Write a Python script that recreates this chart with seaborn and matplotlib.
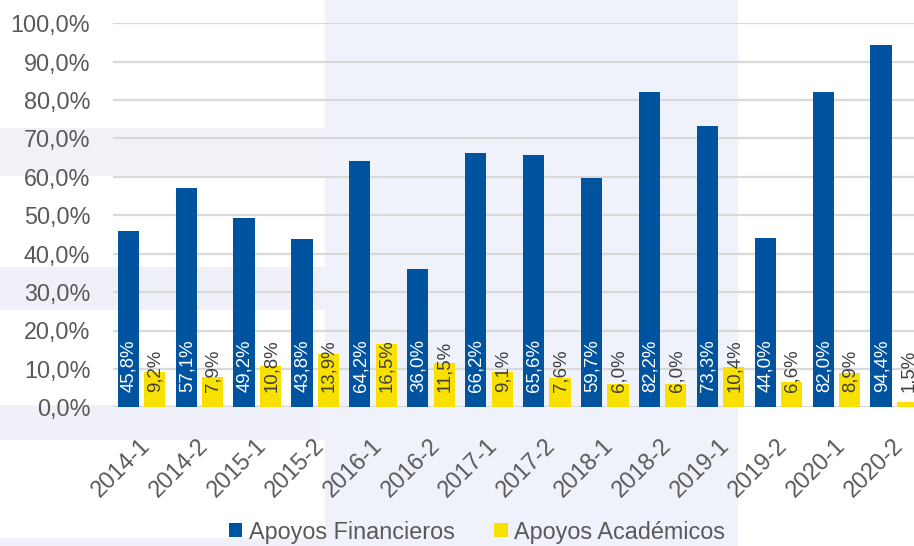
import matplotlib
matplotlib.use("Agg")
import matplotlib.pyplot as plt
import matplotlib.patches as mpatches
import matplotlib.transforms as mtransforms
import seaborn as sns
import pandas as pd

periodos = ["2014-1", "2014-2", "2015-1", "2015-2", "2016-1", "2016-2", "2017-1",
            "2017-2", "2018-1", "2018-2", "2019-1", "2019-2", "2020-1", "2020-2"]
financieros = [45.8, 57.1, 49.2, 43.8, 64.2, 36.0, 66.2, 65.6, 59.7, 82.2, 73.3, 44.0, 82.0, 94.4]
academicos = [9.2, 7.9, 10.8, 13.9, 16.5, 11.5, 9.1, 7.6, 6.0, 6.0, 10.4, 6.6, 8.9, 1.5]
series = ["Apoyos Financieros", "Apoyos Académicos"]
yticks = [0, 10, 20, 30, 40, 50, 60, 70, 80, 90, 100]

BLUE = "#00539F"
YELLOW = "#F8E000"
GRID = "#D9D9D9"
TXT = "#595959"

df = pd.DataFrame({
    "periodo": periodos * 2,
    "valor": financieros + academicos,
    "serie": [series[0]] * len(periodos) + [series[1]] * len(periodos),
})

sns.set_theme(style="white")
plt.rcParams["font.family"] = ["Liberation Sans", "DejaVu Sans"]

W, H = 914, 546
fig = plt.figure(figsize=(W / 100, H / 100), dpi=100)
fig.patch.set_facecolor("white")

# faint background panels (screenshot backdrop)
def fig_rect(x0, y0, x1, y1, color):
    fig.patches.append(mpatches.Rectangle((x0 / W, 1 - y1 / H), (x1 - x0) / W, (y1 - y0) / H,
                                          transform=fig.transFigure, facecolor=color,
                                          edgecolor="none", zorder=-10))

fig_rect(325, 0, 738, H, "#EFF2FA")
fig_rect(0, 128, 325, 176, "#F1F1F7")
fig_rect(0, 267, 325, 310, "#F0F1F8")
fig_rect(0, 405, 325, 440, "#F0F1F8")
fig_rect(0, 538, 325, H, "#F0F1F8")

ax = fig.add_axes([112.5 / W, 138.7 / H, (923.2 - 112.5) / W, (522.7 - 138.7) / H])
ax.set_facecolor("none")

sns.barplot(data=df, x="periodo", y="valor", hue="serie", palette=[BLUE, YELLOW],
            width=0.914, gap=0.2, legend=False, ax=ax, saturation=1, zorder=3,
            edgecolor="none")

ax.set_ylim(0, 100)
ax.set_xlim(-0.5, len(periodos) - 0.5)
ax.set_yticks(yticks)
ax.set_yticklabels([f"{v:.1f}%".replace(".", ",") for v in yticks])
ax.yaxis.grid(True, color=GRID, linewidth=1.6, zorder=0)
ax.set_axisbelow(True)
for s in ax.spines.values():
    s.set_visible(False)
ax.axhline(0, color=GRID, linewidth=2.0, zorder=2)
ax.set_xlabel("")
ax.set_ylabel("")
ax.tick_params(axis="y", length=0, pad=16, labelsize=16.8, labelcolor=TXT)
ax.tick_params(axis="x", length=0, pad=19, labelsize=16.8, labelcolor=TXT)
offset = mtransforms.ScaledTranslation(-3 / 100, 0, fig.dpi_scale_trans)
for lab in ax.get_xticklabels():
    lab.set_rotation(45)
    lab.set_ha("right")
    lab.set_va("top")
    lab.set_rotation_mode("anchor")
    lab.set_transform(lab.get_transform() + offset)

# data labels at bar base
for ci, cont in enumerate(ax.containers):
    color = "white" if ci == 0 else "#404040"
    for p in cont.patches:
        v = p.get_height()
        ax.annotate(f"{v:.1f}%".replace(".", ","),
                    xy=(p.get_x() + p.get_width() / 2, 0), xytext=(0.5, 11),
                    textcoords="offset points", rotation=90, ha="center", va="bottom",
                    fontsize=13.4, color=color, zorder=5, annotation_clip=False)

handles = [mpatches.Patch(facecolor=BLUE, edgecolor="none", label=series[0]),
           mpatches.Patch(facecolor=YELLOW, edgecolor="none", label=series[1])]
leg = fig.legend(handles=handles, loc="center", bbox_to_anchor=(477 / W, 14 / H), ncol=2,
                 frameon=False, fontsize=16.8, handlelength=0.57, handleheight=0.57,
                 handletextpad=0.28, columnspacing=1.7, borderpad=0)
for t in leg.get_texts():
    t.set_color(TXT)

fig.savefig("out.png", dpi=100)
